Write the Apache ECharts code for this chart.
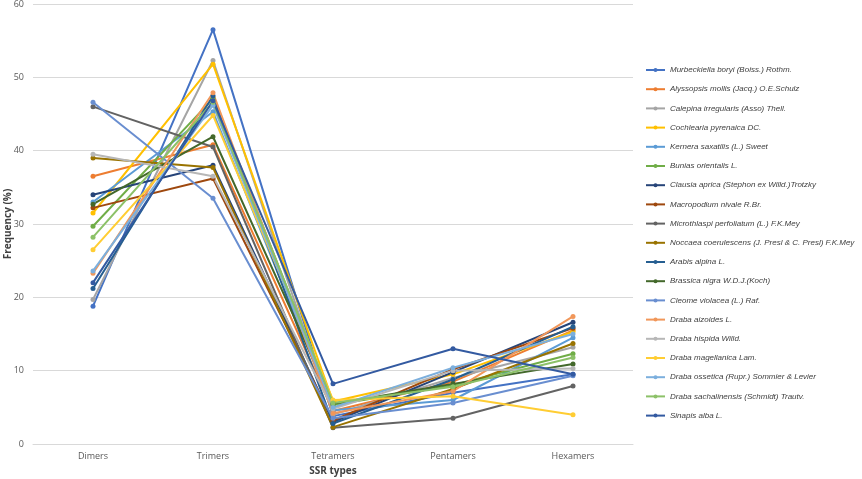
<!DOCTYPE html>
<html>
<head>
<meta charset="utf-8">
<script src="https://cdn.jsdelivr.net/npm/echarts@6/dist/echarts.min.js"></script>
<style>
  html, body { margin: 0; padding: 0; background: #fff; }
  #chart { width: 862px; height: 479px; }
</style>
</head>
<body>
<div id="chart"></div>
<script>
// SSR 类型
const categories = ['Dimers', 'Trimers', 'Tetramers', 'Pentamers', 'Hexamers'];

const speciesNames = [
    'Murbeckiella boryi (Boiss.) Rothm.',
    'Alyssopsis mollis (Jacq.) O.E.Schulz',
    'Calepina irregularis (Asso) Thell.',
    'Cochlearia pyrenaica DC.',
    'Kernera saxatilis (L.) Sweet',
    'Bunias orientalis L.',
    'Clausia aprica (Stephon ex Willd.)Trotzky',
    'Macropodium nivale R.Br.',
    'Microthlaspi perfoliatum (L.) F.K.Mey',
    'Noccaea coerulescens (J. Presl & C. Presl) F.K.Mey',
    'Arabis alpina L.',
    'Brassica nigra W.D.J.(Koch)',
    'Cleome violacea (L.) Raf.',
    'Draba aizoides L.',
    'Draba hispida Willd.',
    'Draba magellanica Lam.',
    'Draba ossetica (Rupr.) Sommier & Levier',
    'Draba sachalinensis (Schmidt) Trautv.',
    'Sinapis alba L.'
];

// 各物种频率 (%)
const murbeckiella = [18.8, 56.5, 3.8, 7.0, 9.5];
const alyssopsis = [36.5, 40.8, 4.5, 8.5, 15.5];
const calepina = [19.7, 52.3, 4.0, 9.0, 13.2];
const cochlearia = [31.5, 51.8, 5.8, 9.5, 15.3];
const kernera = [33.0, 45.3, 4.6, 6.0, 14.5];
const bunias = [29.7, 47.1, 5.3, 8.0, 12.3];
const clausia = [34.0, 38.0, 3.0, 9.8, 16.6];
const macropodium = [32.2, 36.2, 3.2, 10.2, 15.8];
const microthlaspi = [46.0, 40.5, 2.2, 3.5, 7.9];
const noccaea = [39.0, 37.7, 2.3, 7.5, 13.7];
const arabis = [21.2, 47.5, 2.8, 8.8, 16.0];
const brassica = [32.7, 41.9, 5.5, 8.2, 10.9];
const cleome = [46.6, 33.5, 3.5, 5.6, 9.3];
const drabaAizoides = [23.3, 47.9, 4.2, 7.2, 17.4];
const drabaHispida = [39.5, 36.5, 4.8, 10.0, 10.3];
const drabaMagellanica = [26.5, 44.8, 6.0, 6.5, 4.0];
const drabaOssetica = [23.6, 46.2, 5.0, 10.4, 15.0];
const drabaSachalinensis = [28.2, 46.6, 5.6, 7.8, 11.8];
const sinapis = [22.0, 46.8, 8.2, 13.0, 9.5];

const seriesValues = [
    murbeckiella, alyssopsis, calepina, cochlearia, kernera, bunias, clausia,
    macropodium, microthlaspi, noccaea, arabis, brassica, cleome, drabaAizoides,
    drabaHispida, drabaMagellanica, drabaOssetica, drabaSachalinensis, sinapis
];

const yTicks = [0, 10, 20, 30, 40, 50, 60];

const colors = [
    '#4472C4', '#ED7D31', '#A5A5A5', '#FFC000', '#5B9BD5', '#70AD47',
    '#264478', '#9E480E', '#636363', '#997300', '#255E91', '#43682B',
    '#698ED0', '#F1975A', '#B7B7B7', '#FFCD33', '#7CAFDD', '#8CC168',
    '#335AA1'
];

const chart = echarts.init(document.getElementById('chart'));

const option = {
    animation: false,
    color: colors,
    grid: { left: 33, right: 229, top: 4, bottom: 35, containLabel: false, outerBoundsMode: 'none' },
    legend: {
        orient: 'vertical',
        left: 645,
        top: 64,
        padding: 0,
        itemWidth: 19,
        itemHeight: 5,
        itemGap: 7.2,
        itemTextGap: 2,
        textStyle: {
            fontFamily: 'Liberation Sans, sans-serif',
            fontStyle: 'italic',
            fontSize: 8,
            color: '#404040',
            lineHeight: 12
        },
        data: speciesNames
    },
    xAxis: {
        type: 'category',
        data: categories,
        boundaryGap: true,
        name: 'SSR types',
        nameLocation: 'middle',
        nameGap: 21,
        nameTextStyle: { fontFamily: 'Open Sans, sans-serif', fontWeight: 'bold', fontSize: 10, color: '#404040' },
        axisLine: { lineStyle: { color: '#d9d9d9' } },
        axisTick: { show: false },
        axisLabel: { fontFamily: 'Open Sans, sans-serif', fontSize: 9, color: '#595959', margin: 8 }
    },
    yAxis: {
        type: 'value',
        min: yTicks[0],
        max: yTicks[yTicks.length - 1],
        interval: 10,
        name: 'Frequency (%)',
        nameLocation: 'middle',
        nameGap: 20,
        nameMoveOverlap: false,
        nameTextStyle: { fontFamily: 'Open Sans, sans-serif', fontWeight: 'bold', fontSize: 10, color: '#404040' },
        axisLine: { show: false },
        axisTick: { show: false },
        splitLine: { lineStyle: { color: '#d9d9d9' } },
        axisLabel: { fontFamily: 'Open Sans, sans-serif', fontSize: 9, color: '#595959', margin: 9 }
    },
    series: speciesNames.map((name, i) => ({
        name: name,
        type: 'line',
        data: seriesValues[i],
        symbol: 'circle',
        symbolSize: 5,
        lineStyle: { width: 2 }
    }))
};

chart.setOption(option);
</script>
</body>
</html>
